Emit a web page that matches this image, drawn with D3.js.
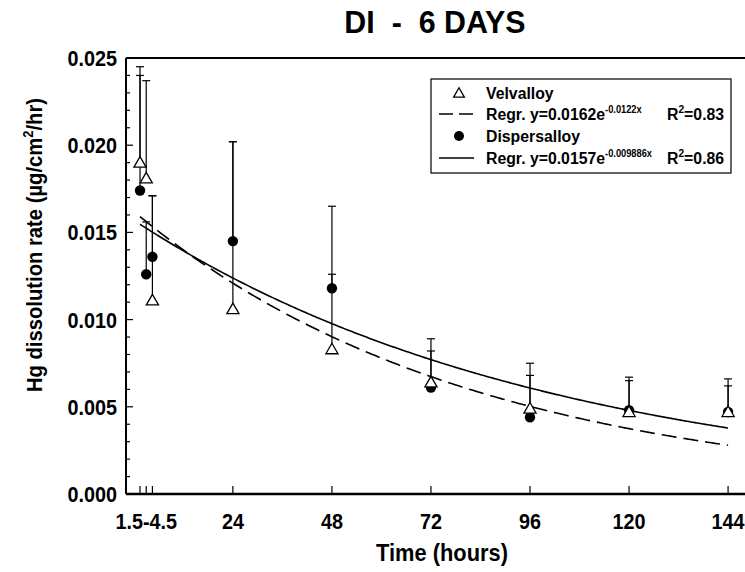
<!DOCTYPE html>
<html lang="en">
<head>
  <meta charset="UTF-8">
  <title>DI - 6 DAYS</title>
  <script src="https://d3js.org/d3.v7.min.js"></script>
  <style>
    body { margin: 0; background: white; }
    svg { display: block; font-family: "Liberation Sans", Arial, sans-serif; font-weight: bold; }
  </style>
</head>
<body>
  <svg id="chart"></svg>
  <script>
    // data
    const hours = [1.5, 3, 4.5, 24, 48, 72, 96, 120, 144];
    const velvalloy = [0.0190, 0.0181, 0.0111, 0.0106, 0.0083, 0.0064, 0.0049, 0.0047, 0.0047];
    const velvalloyTop = [0.0245, 0.0237, 0.0171, 0.0202, 0.0126, 0.0082, 0.0068, 0.0065, 0.0062];
    const dispersalloy = [0.0174, 0.0126, 0.0136, 0.0145, 0.0118, 0.0061, 0.0044, 0.0048, 0.0047];
    const dispersalloyTop = [0.0240, 0.0156, 0.0171, 0.0202, 0.0165, 0.0089, 0.0075, 0.0067, 0.0066];
    // regression y = a * exp(b * x)
    const regrVel = [0.0162, -0.0122];
    const regrDisp = [0.0157, -0.009886];
    const xTicks = [1.5, 3, 4.5, 24, 48, 72, 96, 120, 144];
    const xTickLabels = ["", "1.5-4.5", "", "24", "48", "72", "96", "120", "144"];
    const yTicks = [0, 0.005, 0.01, 0.015, 0.02, 0.025];

    const width = 745, height = 572;
    const svg = d3.select("#chart").attr("width", width).attr("height", height);

    const x = d3.scaleLinear().domain([-1.9, 148.1]).range([126, 745]);
    const y = d3.scaleLinear().domain([0, 0.025]).range([494, 58]);

    // the original lettering is a bit narrow, squeeze it horizontally
    const sq = 0.9;

    // title
    svg.append("text").attr("transform", "translate(435,33) scale(0.95,1)").attr("text-anchor", "middle")
      .attr("font-size", 32).style("white-space", "pre").text("DI  -  6 DAYS");

    // top frame line
    svg.append("line").attr("x1", 126).attr("x2", 745).attr("y1", y(0.025)).attr("y2", y(0.025))
      .attr("stroke", "#000").attr("stroke-width", 2);

    // y axis, ticks inside
    const yAxis = svg.append("g").attr("transform", "translate(126,0)");
    yAxis.append("line").attr("y1", y(0)).attr("y2", y(0.025)).attr("stroke", "#000").attr("stroke-width", 2);
    yAxis.selectAll(".minor").data(d3.range(0, 26).map(i => i * 0.001)).enter().append("line")
      .attr("x1", 0).attr("x2", (d, i) => i % 5 === 0 ? 7 : 4)
      .attr("y1", d => y(d)).attr("y2", d => y(d)).attr("stroke", "#000").attr("stroke-width", 1.2);
    yAxis.selectAll(".lbl").data(yTicks).enter().append("text")
      .attr("transform", d => `translate(-9,${y(d) + 8}) scale(${sq},1)`)
      .attr("text-anchor", "end").attr("font-size", 22)
      .text(d => d3.format(".3f")(d));

    // x axis, ticks inside
    const xAxis = svg.append("g");
    xAxis.append("line").attr("x1", 126).attr("x2", 745).attr("y1", y(0)).attr("y2", y(0))
      .attr("stroke", "#000").attr("stroke-width", 2.5);
    xAxis.selectAll(".tk").data(xTicks).enter().append("line")
      .attr("x1", d => x(d)).attr("x2", d => x(d)).attr("y1", y(0)).attr("y2", y(0) - 8)
      .attr("stroke", "#000").attr("stroke-width", 1.2);
    xAxis.selectAll(".lbl").data(xTicks).enter().append("text")
      .attr("transform", d => `translate(${x(d)},529) scale(${sq},1)`)
      .attr("text-anchor", "middle").attr("font-size", 22)
      .text((d, i) => xTickLabels[i]);

    // axis titles
    svg.append("text").attr("transform", "translate(442,561) scale(0.95,1)").attr("text-anchor", "middle")
      .attr("font-size", 23).text("Time (hours)");
    const yl = svg.append("text").attr("transform", "translate(42,245) rotate(-90) scale(0.92,1)")
      .attr("text-anchor", "middle").attr("font-size", 22);
    yl.append("tspan").text("Hg dissolution rate (\u00b5g/cm");
    yl.append("tspan").attr("font-size", 14).attr("dy", -9).text("2");
    yl.append("tspan").attr("dy", 9).text("/hr)");

    // regression curves
    const curveX = d3.range(1.5, 144.01, 0.5);
    const line = d3.line().x(d => x(d[0])).y(d => y(d[1]));
    svg.append("path").datum(curveX.map(t => [t, regrVel[0] * Math.exp(regrVel[1] * t)]))
      .attr("d", line).attr("fill", "none").attr("stroke", "#000").attr("stroke-width", 1.6)
      .attr("stroke-dasharray", "15,7");
    svg.append("path").datum(curveX.map(t => [t, regrDisp[0] * Math.exp(regrDisp[1] * t)]))
      .attr("d", line).attr("fill", "none").attr("stroke", "#000").attr("stroke-width", 1.6);

    // error bars (upper only)
    function errorBars(vals, tops) {
      const g = svg.append("g").attr("stroke", "#000").attr("stroke-width", 1.2);
      hours.forEach((h, i) => {
        g.append("line").attr("x1", x(h)).attr("x2", x(h)).attr("y1", y(vals[i])).attr("y2", y(tops[i]));
        g.append("line").attr("x1", x(h) - 4).attr("x2", x(h) + 4).attr("y1", y(tops[i])).attr("y2", y(tops[i]));
      });
    }
    errorBars(velvalloy, velvalloyTop);
    errorBars(dispersalloy, dispersalloyTop);

    const tri = d3.symbol().type(d3.symbolTriangle).size(64);
    svg.append("g").selectAll("circle").data(hours).enter().append("circle")
      .attr("cx", d => x(d)).attr("cy", (d, i) => y(dispersalloy[i])).attr("r", 5.2).attr("fill", "#000");
    svg.append("g").selectAll("path").data(hours).enter().append("path")
      .attr("d", tri).attr("transform", (d, i) => `translate(${x(d)},${y(velvalloy[i]) + 1})`)
      .attr("fill", "white").attr("stroke", "#000").attr("stroke-width", 1.3);

    // legend
    const lg = svg.append("g").attr("transform", "translate(431,79)");
    lg.append("rect").attr("width", 300).attr("height", 94).attr("fill", "white")
      .attr("stroke", "#000").attr("stroke-width", 1.2);
    lg.append("path").attr("d", d3.symbol().type(d3.symbolTriangle).size(50))
      .attr("transform", "translate(28,15)").attr("fill", "white").attr("stroke", "#000").attr("stroke-width", 1.3);
    lg.append("line").attr("x1", 8).attr("x2", 43).attr("y1", 35).attr("y2", 35)
      .attr("stroke", "#000").attr("stroke-width", 1.4).attr("stroke-dasharray", "14,6");
    lg.append("circle").attr("cx", 28).attr("cy", 57).attr("r", 5).attr("fill", "#000");
    lg.append("line").attr("x1", 8).attr("x2", 43).attr("y1", 79).attr("y2", 79)
      .attr("stroke", "#000").attr("stroke-width", 1.4);

    const fs = 17;
    function legText(xx, yy) {
      return lg.append("text").attr("transform", `translate(${xx},${yy}) scale(0.93,1)`).attr("font-size", fs);
    }
    legText(55, 20).text("Velvalloy");
    legText(55, 63).text("Dispersalloy");
    function regrText(yy, a, b, r2) {
      const t = legText(55, yy);
      t.append("tspan").text(`Regr. y=${a}e`);
      t.append("tspan").attr("font-size", 10).attr("dy", -7).text(`${b}x`);
      const r = legText(236, yy);
      r.append("tspan").text("R");
      r.append("tspan").attr("font-size", 11).attr("dy", -7).text("2");
      r.append("tspan").attr("dy", 7).text(`=${r2}`);
    }
    regrText(41, regrVel[0], regrVel[1], "0.83");
    regrText(85, regrDisp[0], regrDisp[1], "0.86");
  </script>
</body>
</html>
